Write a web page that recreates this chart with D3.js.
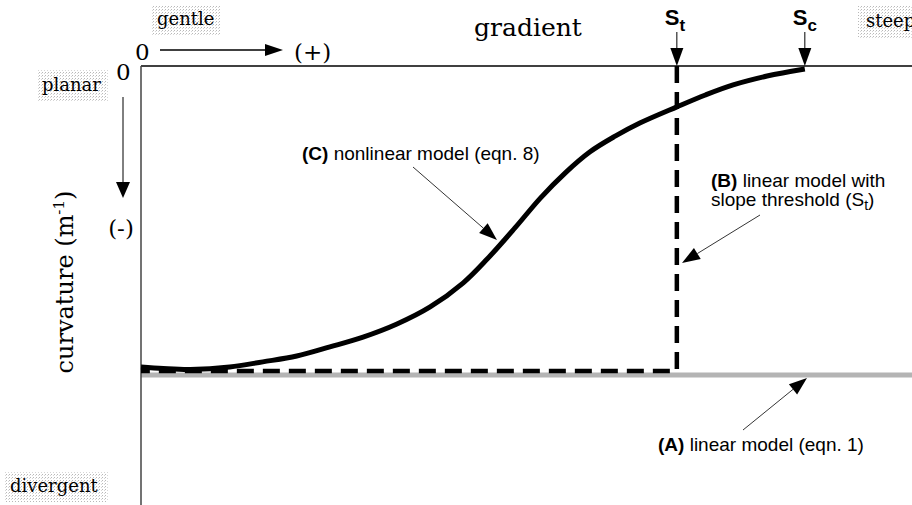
<!DOCTYPE html>
<html>
<head>
<meta charset="utf-8">
<script src="https://cdn.jsdelivr.net/npm/d3@7"></script>
<style>
  body { margin: 0; background: #fff; }
  svg { display: block; }
</style>
</head>
<body>
<div id="chart"></div>
<script>
// gradient (relative units, 0-100) and curvature (relative, 0 = planar, -1 = max divergent)
var gradient = [0, 2.9, 6.4, 11.5, 15.8, 20.2, 24.5, 28.8, 33.2, 37.5, 41.8, 44.9, 48.5,
                51.8, 55.0, 58.2, 61.5, 64.7, 69.5, 73.2, 76.8, 81.2, 86.1];
var curvatureC = [-0.987, -0.992, -0.995, -0.987, -0.970, -0.951, -0.921, -0.889, -0.846,
                  -0.790, -0.711, -0.633, -0.531, -0.433, -0.351, -0.282, -0.230, -0.187,
                  -0.134, -0.095, -0.062, -0.033, -0.010];
var slopeThreshold = 69.5;   // S_t
var slopeCritical = 86.1;    // S_c
var linearA = -1.013;        // (A) linear model, constant curvature
var linearB = -1.0;          // (B) linear model with slope threshold

var cornerWords = ["gentle", "steep", "planar", "divergent"];

function makegraph() {

var svgWidth = 912;
var svgHeight = 505;
var margin = { top: 66, right: 0, bottom: 134, left: 141 };
var width = svgWidth - margin.left - margin.right;
var height = svgHeight - margin.top - margin.bottom;

var svg = d3.select("#chart")
  .append("svg")
  .attr("width", svgWidth)
  .attr("height", svgHeight);

// halftone fill for the word boxes
var defs = svg.append("defs");
var pat = defs.append("pattern")
  .attr("id", "halftone")
  .attr("width", 3).attr("height", 3)
  .attr("patternUnits", "userSpaceOnUse");
pat.append("rect").attr("width", 1).attr("height", 1).attr("fill", "#b8b8b8");
pat.append("rect").attr("x", 2).attr("y", 1).attr("width", 1).attr("height", 1).attr("fill", "#d6d6d6");

var chartGroup = svg.append("g")
  .attr("transform", `translate(${margin.left}, ${margin.top})`);

var xScale = d3.scaleLinear().domain([0, 100]).range([0, width]);
var yScale = d3.scaleLinear().domain([0, -1]).range([0, height]);

var serif = "'DejaVu Serif', serif";
var sans = "'Liberation Sans', Arial, sans-serif";

// (A) linear model - gray band
chartGroup.append("line")
  .attr("x1", xScale(0)).attr("x2", xScale(100))
  .attr("y1", yScale(linearA)).attr("y2", yScale(linearA))
  .attr("stroke", "#b4b4b4")
  .attr("stroke-width", 5);

// axes: top line (gradient) and left line (curvature)
chartGroup.append("line")
  .attr("x1", xScale(0)).attr("x2", xScale(100))
  .attr("y1", yScale(0)).attr("y2", yScale(0))
  .attr("stroke", "#000").attr("stroke-width", 1.5);

chartGroup.append("line")
  .attr("x1", xScale(0)).attr("x2", xScale(0))
  .attr("y1", yScale(0)).attr("y2", svgHeight - margin.top)
  .attr("stroke", "#444").attr("stroke-width", 1.5);

// (B) linear model with slope threshold - dashed
var dashData = [[slopeThreshold, 0], [slopeThreshold, linearB], [0, linearB]];
chartGroup.append("path")
  .datum(dashData)
  .attr("d", d3.line().x(d => xScale(d[0])).y(d => yScale(d[1])))
  .attr("fill", "none")
  .attr("stroke", "#000")
  .attr("stroke-width", 4.5)
  .attr("stroke-dasharray", "17,9");

// (C) nonlinear model
var curveData = gradient.map((g, i) => [g, curvatureC[i]]);
chartGroup.append("path")
  .datum(curveData)
  .attr("d", d3.line().x(d => xScale(d[0])).y(d => yScale(d[1])).curve(d3.curveCatmullRom.alpha(0.5)))
  .attr("fill", "none")
  .attr("stroke", "#000")
  .attr("stroke-width", 5)
  .attr("stroke-linecap", "butt");

// arrow helper (page coords)
function arrow(x1, y1, x2, y2, len, w, sw) {
  var dx = x2 - x1, dy = y2 - y1, d = Math.hypot(dx, dy);
  var ux = dx / d, uy = dy / d;
  var bx = x2 - ux * len, by = y2 - uy * len;
  svg.append("line")
    .attr("x1", x1).attr("y1", y1).attr("x2", bx).attr("y2", by)
    .attr("stroke", "#000").attr("stroke-width", sw || 1);
  svg.append("path")
    .attr("d", `M${x2},${y2}L${bx - uy * w / 2},${by + ux * w / 2}L${bx + uy * w / 2},${by - ux * w / 2}Z`)
    .attr("fill", "#000");
}

// halftone word boxes
var boxes = [
  { word: cornerWords[0], x: 152, y: 5, w: 68, h: 30, tx: 157, ty: 25 },
  { word: cornerWords[1], x: 858, y: 5, w: 60, h: 33, tx: 866, ty: 27 },
  { word: cornerWords[2], x: 38, y: 70, w: 70, h: 32, tx: 42, ty: 91 },
  { word: cornerWords[3], x: 5, y: 472, w: 103, h: 30, tx: 10, ty: 492 }
];
boxes.forEach(function(b) {
  svg.append("rect")
    .attr("x", b.x).attr("y", b.y).attr("width", b.w).attr("height", b.h)
    .attr("fill", "url(#halftone)");
  svg.append("text")
    .attr("x", b.tx).attr("y", b.ty)
    .attr("font-family", serif).attr("font-size", 18)
    .attr("fill", "#000")
    .text(b.word);
});

// gradient direction: 0 -> (+)
svg.append("text").attr("x", 135).attr("y", 60)
  .attr("font-family", serif).attr("font-size", 23).text("0");
arrow(160, 50, 283, 50, 18, 12, 1.3);
svg.append("text").attr("x", 294).attr("y", 60)
  .attr("font-family", serif).attr("font-size", 23).text("(+)");

// curvature direction: 0 -> (-)
svg.append("text").attr("x", 116).attr("y", 80)
  .attr("font-family", serif).attr("font-size", 23).text("0");
arrow(123, 97, 123, 198, 16, 14, 1);
svg.append("text").attr("x", 121).attr("y", 236)
  .attr("text-anchor", "middle")
  .attr("font-family", serif).attr("font-size", 23).text("(-)");

// axis titles
svg.append("text")
  .attr("x", 528).attr("y", 36)
  .attr("text-anchor", "middle")
  .attr("font-family", serif).attr("font-size", 25)
  .text("gradient");

var yTitle = svg.append("text")
  .attr("transform", "translate(73, 282) rotate(-90)")
  .attr("text-anchor", "middle")
  .attr("font-family", serif).attr("font-size", 24);
yTitle.append("tspan").text("curvature (m");
yTitle.append("tspan").attr("dy", -9).attr("font-size", 15).text("-1");
yTitle.append("tspan").attr("dy", 9).text(")");

// S_t and S_c markers
function sLabel(xv, sub) {
  var px = margin.left + xScale(xv);
  arrow(px, 32, px, margin.top, 18, 13, 1);
  var t = svg.append("text")
    .attr("x", px - 12).attr("y", 25)
    .attr("font-family", sans).attr("font-weight", "bold").attr("font-size", 22);
  t.append("tspan").text("S");
  t.append("tspan").attr("dy", 6).attr("font-size", 17).text(sub);
}
sLabel(slopeThreshold, "t");
sLabel(slopeCritical, "c");

// annotations
var cLab = svg.append("text").attr("x", 302).attr("y", 160)
  .attr("font-family", sans).attr("font-size", 19);
cLab.append("tspan").attr("font-weight", "bold").text("(C)");
cLab.append("tspan").text(" nonlinear model (eqn. 8)");
arrow(413, 167, 497, 240, 18, 13, 0.8);

var bLab1 = svg.append("text").attr("x", 711).attr("y", 187)
  .attr("font-family", sans).attr("font-size", 19);
bLab1.append("tspan").attr("font-weight", "bold").text("(B)");
bLab1.append("tspan").text(" linear model with");
var bLab2 = svg.append("text").attr("x", 711).attr("y", 206)
  .attr("font-family", sans).attr("font-size", 19);
bLab2.append("tspan").text("slope threshold (S");
bLab2.append("tspan").attr("dy", 4).attr("font-size", 14).text("t");
bLab2.append("tspan").attr("dy", -4).text(")");
arrow(760, 215, 682, 263, 18, 13, 0.8);

var aLab = svg.append("text").attr("x", 658).attr("y", 451)
  .attr("font-family", sans).attr("font-size", 19);
aLab.append("tspan").attr("font-weight", "bold").text("(A)");
aLab.append("tspan").text(" linear model (eqn. 1)");
arrow(743, 430, 807, 378, 18, 13, 0.8);

}

makegraph();
</script>
</body>
</html>
